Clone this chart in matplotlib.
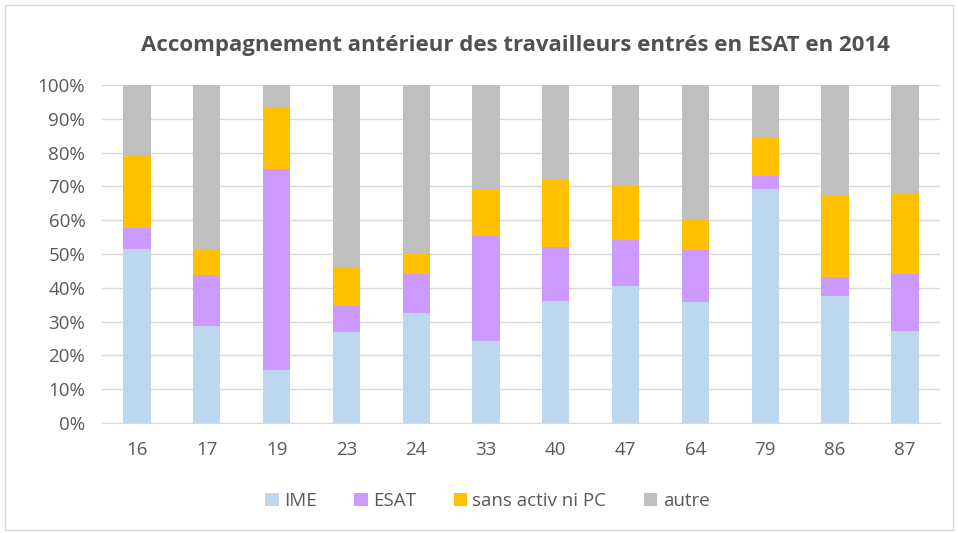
import matplotlib
matplotlib.use("Agg")
import matplotlib.pyplot as plt
from matplotlib.patches import Rectangle
import numpy as np

# departments
depts = ["16", "17", "19", "23", "24", "33", "40", "47", "64", "79", "86", "87"]

# share of each origin, in %
ime = [51.4, 28.8, 15.8, 26.9, 32.5, 24.4, 36.0, 40.5, 35.7, 69.2, 37.7, 27.3]
esat = [6.3, 14.9, 59.4, 7.8, 11.6, 30.8, 16.0, 13.7, 15.6, 3.8, 5.6, 16.7]
sans = [21.3, 7.7, 18.2, 11.4, 5.9, 13.7, 20.0, 16.0, 8.8, 11.5, 24.1, 24.0]
autre = [21.0, 48.6, 6.6, 53.9, 50.0, 31.1, 28.0, 29.8, 39.9, 15.5, 32.6, 32.0]

series = [("IME", ime, "#bdd7ee"),
          ("ESAT", esat, "#cc99ff"),
          ("sans activ ni PC", sans, "#ffc000"),
          ("autre", autre, "#bfbfbf")]

plt.rcParams['font.family'] = ['Open Sans', 'DejaVu Sans']

fig = plt.figure(figsize=(9.58, 5.33), dpi=100)
ax = fig.add_axes([0.1065, 0.2064, 0.8745, 0.6341])

x = np.arange(len(depts))
bottom = np.zeros(len(depts))
for name, vals, col in series:
    vals = np.array(vals) / 100
    ax.bar(x, vals, 0.39, bottom=bottom, color=col, label=name, zorder=3)
    bottom += vals

ax.set_xlim(-0.5, len(depts) - 0.5)
ax.set_ylim(0, 1)
ax.set_yticks(np.arange(0, 1.01, 0.1))
ax.set_yticklabels([f"{int(round(v*100))}%" for v in np.arange(0, 1.01, 0.1)])
ax.set_xticks(x)
ax.set_xticklabels(depts)
ax.grid(axis="y", color="#d9d9d9", linewidth=1, zorder=0)
for s in ["top", "right", "left"]:
    ax.spines[s].set_visible(False)
ax.spines["bottom"].set_color("#d9d9d9")
ax.tick_params(axis="both", length=0, labelsize=13.5, colors="#595959")
ax.tick_params(axis="x", pad=13)
ax.tick_params(axis="y", pad=12)

fig.text(0.538, 0.915, "Accompagnement antérieur des travailleurs entrés en ESAT en 2014",
         ha="center", va="center", fontsize=16, fontweight="bold", color="#505050")

ax.legend(loc="center", bbox_to_anchor=(0.46, -0.23), ncol=4, frameon=False,
          fontsize=13.5, labelcolor="#595959", handlelength=0.7, handleheight=0.7,
          columnspacing=2.0, handletextpad=0.3)

fig.patches.append(Rectangle((0.005, 0.005), 0.99, 0.985, transform=fig.transFigure,
                             fill=False, edgecolor="#d9d9d9", linewidth=1))

fig.savefig("out.png", dpi=100)
